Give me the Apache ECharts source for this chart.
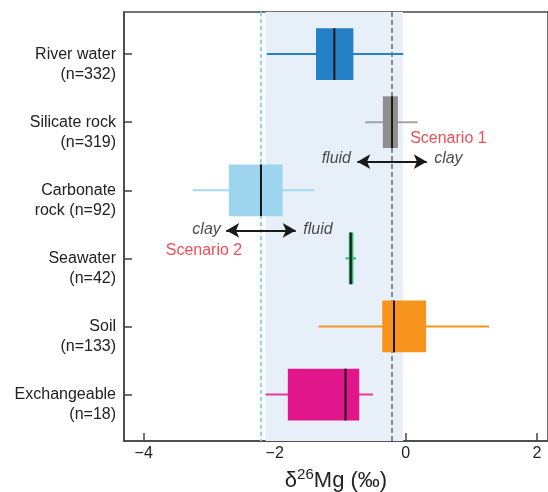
<!DOCTYPE html>
<html>
<head>
<meta charset="utf-8">
<script src="https://cdn.jsdelivr.net/npm/echarts@6/dist/echarts.min.js"></script>
<style>
html, body { margin: 0; padding: 0; background: #fff; }
#chart { width: 548px; height: 492px; }
</style>
</head>
<body>
<div id="chart"></div>
<script>
// groups, top to bottom
var categories = ['River water\n(n=332)', 'Silicate rock\n(n=319)', 'Carbonate\nrock (n=92)', 'Seawater\n(n=42)', 'Soil\n(n=133)', 'Exchangeable\n(n=18)'];
var whiskerLow  = [-2.12, -0.62, -3.25, -0.92, -1.33, -2.14];
var q1          = [-1.37, -0.35, -2.70, -0.87, -0.36, -1.80];
var median      = [-1.09, -0.21, -2.21, -0.84, -0.18, -0.92];
var q3          = [-0.80, -0.12, -1.88, -0.80,  0.31, -0.71];
var whiskerHigh = [-0.04,  0.18, -1.40, -0.76,  1.27, -0.50];
var xTicks = [-4, -2, 0, 2];

// shaded range and reference lines (‰)
var bandRange = [-2.14, -0.04];
var refLines = [-2.21, -0.21];

// scenario annotations
var noteText = ['Scenario 1', 'fluid', 'clay', 'clay', 'fluid', 'Scenario 2'];
var noteX = [0.65, -1.06, 0.65, -3.04, -1.34, -3.08];
var noteY = [2.24, 2.53, 2.53, 3.57, 3.57, 3.88];
var arrowFrom = [[-0.74, 2.58], [-2.74, 3.59]];
var arrowTo = [[0.32, 2.58], [-1.68, 3.59]];

var boxColors = ['#2680c6', '#8f8f8f', '#9dd5ee', '#2cb86a', '#f7941e', '#e0168a'];
var whiskerColors = ['#2a80c6', '#a3a3a3', '#a6d9f0', '#2cb86a', '#f39322', '#e6399b'];
var font = 'Liberation Sans, Arial, Helvetica, sans-serif';

var chart = echarts.init(document.getElementById('chart'));

var boxData = categories.map(function (c, i) {
  return [i + 1, whiskerLow[i], q1[i], median[i], q3[i], whiskerHigh[i]];
});

var noteData = noteText.map(function (t, i) {
  var red = t.indexOf('Scenario') === 0;
  return {
    name: t,
    value: [noteX[i], noteY[i]],
    label: { color: red ? '#e8202a' : '#222', fontStyle: red ? 'normal' : 'italic' }
  };
});

chart.setOption({
  animation: false,
  backgroundColor: '#fff',
  grid: {
    left: 124, right: 0, top: 12, bottom: 51,
    outerBoundsMode: 'none',
    show: true, borderColor: '#444', borderWidth: 1.5
  },
  xAxis: {
    type: 'value',
    min: -4.3,
    max: 2.17,
    splitLine: { show: false },
    axisLine: { onZero: false, lineStyle: { color: '#444', width: 1.5 } },
    axisTick: { inside: true, length: 8, customValues: xTicks, lineStyle: { color: '#444', width: 1.5 } },
    axisLabel: {
      customValues: xTicks,
      fontSize: 16, color: '#222', fontFamily: font, margin: 5,
      formatter: function (v) { return String(v).replace('-', '\u2212'); }
    },
    name: '{a|δ}{s|26}{a|Mg (‰)}',
    nameLocation: 'middle',
    nameGap: 26,
    nameTextStyle: {
      rich: {
        a: { fontSize: 22, color: '#222', fontFamily: font },
        s: { fontSize: 15, color: '#222', fontFamily: font, padding: [0, 0, 12, 0] }
      }
    }
  },
  yAxis: {
    type: 'value',
    inverse: true,
    min: 0.382,
    max: 6.682,
    splitLine: { show: false },
    axisLine: { onZero: false, lineStyle: { color: '#444', width: 1.5 } },
    axisTick: { inside: true, length: 8, customValues: [1, 2, 3, 4, 5, 6], lineStyle: { color: '#444', width: 1.5 } },
    axisLabel: {
      customValues: categories.map(function (c, i) { return i + 1 + 10 / 68; }),
      formatter: function (v) { return categories[Math.round(v) - 1]; },
      fontSize: 16, lineHeight: 20, color: '#222', fontFamily: font, margin: 8, align: 'right'
    }
  },
  series: [{
    type: 'line',
    data: [],
    z: 1,
    silent: true,
    markArea: {
      z: 1,
      silent: true,
      itemStyle: { color: '#e7f0f8' },
      data: [[{ xAxis: bandRange[0] }, { xAxis: bandRange[1] }]]
    },
    markLine: {
      z: 2,
      silent: true,
      symbol: 'none',
      label: { show: false },
      data: [
        { xAxis: refLines[0], lineStyle: { color: '#8fd3f0', width: 2, type: [4, 3] } },
        { xAxis: refLines[1], lineStyle: { color: '#8a8a8a', width: 2, type: [5, 3] } }
      ]
    }
  }, {
    type: 'custom',
    z: 3,
    data: boxData,
    encode: { x: [1, 2, 3, 4, 5], y: 0 },
    renderItem: function (params, api) {
      var i = params.dataIndex;
      var y = api.value(0);
      var h = Math.abs(api.size([0, 0.76])[1]);
      var lo = api.coord([api.value(1), y]);
      var a = api.coord([api.value(2), y]);
      var m = api.coord([api.value(3), y]);
      var b = api.coord([api.value(4), y]);
      var hi = api.coord([api.value(5), y]);
      return {
        type: 'group',
        children: [
          { type: 'line', shape: { x1: lo[0], y1: lo[1], x2: hi[0], y2: hi[1] }, style: { stroke: whiskerColors[i], lineWidth: 2 } },
          { type: 'rect', shape: { x: a[0], y: a[1] - h / 2, width: b[0] - a[0], height: h }, style: { fill: boxColors[i] } },
          { type: 'line', shape: { x1: m[0], y1: m[1] - h / 2, x2: m[0], y2: m[1] + h / 2 }, style: { stroke: '#161616', lineWidth: 2 } }
        ]
      };
    }
  }, {
    type: 'scatter',
    z: 4,
    symbolSize: 0,
    silent: true,
    data: noteData,
    label: {
      show: true,
      position: 'inside',
      fontSize: 16,
      fontFamily: font,
      formatter: function (p) { return p.name; }
    },
    markLine: {
      z: 5,
      silent: true,
      symbol: ['arrow', 'arrow'],
      symbolSize: [11, 13],
      label: { show: false },
      lineStyle: { color: '#1a1a1a', width: 2, type: 'solid' },
      data: arrowFrom.map(function (f, i) {
        return [{ coord: f }, { coord: arrowTo[i] }];
      })
    }
  }]
});
</script>
</body>
</html>
